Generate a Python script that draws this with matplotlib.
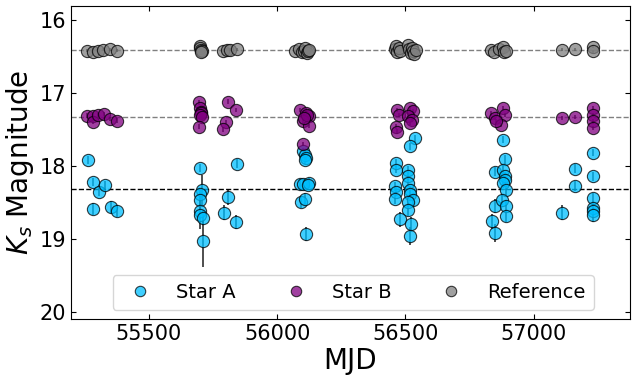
import numpy as np
import matplotlib
matplotlib.use("Agg")
import matplotlib.pyplot as plt
from matplotlib.lines import Line2D

# Star A photometry (MJD, Ks, error)
mjd_a = [55263, 55283, 55306, 55328, 55283, 55352, 55374,
         55700, 55705, 55698, 55700, 55698, 55700, 55712, 55712,
         55842, 55808, 55792, 55840,
         56100, 56110, 56112, 56110, 56088, 56100, 56123, 56119, 56094, 56110, 56112,
         56465, 56465, 56510, 56510, 56510, 56458, 56465, 56517, 56517, 56530,
         56458, 56510, 56510, 56478, 56523, 56517, 56536, 56517,
         56880, 56887, 56848, 56880, 56887, 56887, 56880, 56894, 56848, 56877,
         56894, 56892, 56838, 56848,
         57231, 57162, 57162, 57231, 57112, 57231, 57231, 57231, 57231]
mag_a = [17.92, 18.22, 18.35, 18.26, 18.59, 18.56, 18.62,
         18.03, 18.33, 18.39, 18.46, 18.62, 18.67, 18.71, 19.03,
         17.97, 18.43, 18.64, 18.77,
         17.80, 17.85, 17.89, 17.92, 18.25, 18.25, 18.23, 18.26, 18.49, 18.45, 18.93,
         17.96, 18.05, 18.05, 18.14, 18.23, 18.28, 18.35, 18.33, 18.39, 18.46,
         18.45, 18.49, 18.60, 18.73, 18.80, 18.96, 17.62, 17.73,
         17.64, 17.91, 18.08, 18.05, 18.14, 18.19, 18.23, 18.33, 18.55, 18.46,
         18.55, 18.69, 18.76, 18.92,
         17.82, 18.04, 18.27, 18.14, 18.64, 18.44, 18.58, 18.62, 18.67]
err_a = [0.05, 0.06, 0.06, 0.06, 0.08, 0.08, 0.08,
         0.05, 0.20, 0.08, 0.08, 0.10, 0.20, 0.10, 0.36,
         0.06, 0.10, 0.10, 0.10,
         0.05, 0.05, 0.05, 0.05, 0.07, 0.07, 0.07, 0.07, 0.08, 0.08, 0.10,
         0.05, 0.05, 0.05, 0.05, 0.06, 0.06, 0.06, 0.06, 0.07, 0.07,
         0.07, 0.07, 0.08, 0.10, 0.10, 0.12, 0.05, 0.05,
         0.05, 0.06, 0.06, 0.06, 0.06, 0.06, 0.07, 0.07, 0.10, 0.08,
         0.08, 0.08, 0.10, 0.12,
         0.05, 0.06, 0.07, 0.06, 0.10, 0.07, 0.08, 0.08, 0.10]

# Star B
mjd_b = [55257, 55283, 55283, 55302, 55325, 55348, 55374,
         55697, 55700, 55702, 55704, 55700, 55706, 55696,
         55808, 55840, 55802, 55789,
         56088, 56112, 56123, 56100, 56126, 56118, 56105, 56100,
         56468, 56475, 56462, 56468, 56517, 56530, 56512, 56525, 56518,
         56835, 56848, 56880, 56887, 56874, 56855,
         57112, 57162, 57231, 57231, 57231, 57231]
mag_b = [17.31, 17.32, 17.40, 17.30, 17.29, 17.36, 17.38,
         17.13, 17.21, 17.26, 17.28, 17.30, 17.33, 17.46,
         17.12, 17.23, 17.40, 17.50,
         17.23, 17.28, 17.32, 17.39, 17.45, 17.30, 17.35, 17.70,
         17.23, 17.30, 17.46, 17.53, 17.21, 17.25, 17.32, 17.37, 17.41,
         17.28, 17.34, 17.21, 17.30, 17.44, 17.39,
         17.34, 17.33, 17.21, 17.30, 17.39, 17.48]
err_b = [0.03] * len(mag_b)

# Reference star
mjd_r = [55257, 55283, 55302, 55322, 55348, 55374,
         55698, 55700, 55702, 55705, 55703,
         55790, 55803, 55815, 55842,
         56070, 56085, 56095, 56105, 56110, 56115, 56120, 56125,
         56458, 56462, 56466, 56475, 56480, 56510, 56515, 56520, 56525, 56530, 56535, 56540,
         56835, 56845, 56865, 56880, 56885, 56893,
         57112, 57162, 57231, 57231]
mag_r = [16.42, 16.44, 16.42, 16.41, 16.40, 16.42,
         16.36, 16.38, 16.41, 16.43, 16.44,
         16.42, 16.41, 16.41, 16.40,
         16.43, 16.40, 16.44, 16.42, 16.39, 16.45, 16.43, 16.41,
         16.40, 16.36, 16.44, 16.38, 16.43, 16.35, 16.40, 16.46, 16.38, 16.43, 16.47, 16.41,
         16.41, 16.44, 16.40, 16.37, 16.44, 16.42,
         16.41, 16.40, 16.37, 16.43]
err_r = [0.02] * len(mag_r)

mean_r = 16.41
mean_b = 17.335
mean_a = 18.32

fig = plt.figure(figsize=(6.33, 3.75), dpi=100)
ax = fig.add_axes([0.1117, 0.1485, 0.8833, 0.8355])

ax.axhline(mean_r, color='grey', ls='--', lw=1, zorder=0)
ax.axhline(mean_b, color='grey', ls='--', lw=1, zorder=0)
ax.axhline(mean_a, color='k', ls='--', lw=1, zorder=0)

kw = dict(fmt='o', ms=8.8, mec='k', mew=0.8, ecolor='k', elinewidth=1.3, capsize=0, alpha=0.75)
ax.errorbar(mjd_a, mag_a, yerr=err_a, color='deepskyblue', **kw)
ax.errorbar(mjd_b, mag_b, yerr=err_b, color='purple', **kw)
ax.errorbar(mjd_r, mag_r, yerr=err_r, color='grey', **kw)

ax.set_xlim(55195, 57375)
ax.set_ylim(20.1, 15.81)
ax.set_yticks([16, 17, 18, 19, 20])
ax.set_xticks([55500, 56000, 56500, 57000])
ax.tick_params(direction='in', top=True, right=True, labelsize=15)
ax.set_xlabel('MJD', fontsize=20, labelpad=2)
ax.set_ylabel('$K_s$ Magnitude', fontsize=20, labelpad=2)

handles = [Line2D([], [], ls='', marker='o', ms=7.5, mec='k', mew=0.8, alpha=0.75, color=c)
           for c in ['deepskyblue', 'purple', 'grey']]
ax.legend(handles, ['Star A', 'Star B', 'Reference'], loc='lower center', ncol=3,
          fontsize=14, handlelength=2.0, handletextpad=0.85, columnspacing=2.1,
          borderpad=0.4, bbox_to_anchor=(0.505, 0.0))

fig.savefig('out.png', dpi=100)
